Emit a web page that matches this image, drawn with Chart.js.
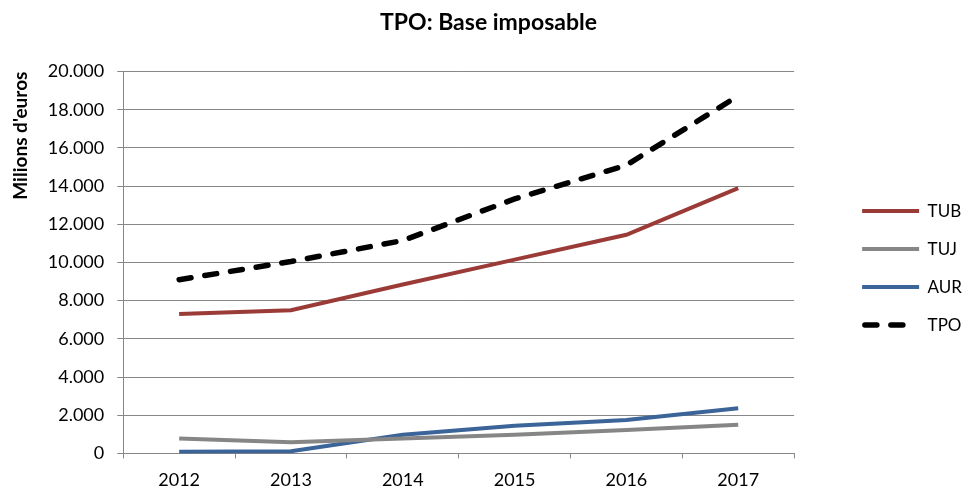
<!DOCTYPE html>
<html>
<head>
<meta charset="utf-8">
<script src="https://cdn.jsdelivr.net/npm/chart.js@4"></script>
<style>
  html, body { margin: 0; padding: 0; background: #fff; }
  #wrap { width: 963px; height: 488px; }
</style>
</head>
<body>
<div id="wrap"><canvas id="chart"></canvas></div>
<script>
const years = ['2012', '2013', '2014', '2015', '2016', '2017'];
const tub = [7300, 7500, 8850, 10150, 11450, 13900];
const tuj = [780, 590, 780, 980, 1220, 1500];
const aur = [80, 110, 980, 1450, 1750, 2360];
const tpo = [9100, 10050, 11150, 13330, 15100, 18730];
const yTicks = [0, 2000, 4000, 6000, 8000, 10000, 12000, 14000, 16000, 18000, 20000];

const gridColor = '#878787';
const font = 'Lato';
const legendLineW = 57;

// thousands with a dot, as in the original
function fmt(v) {
  return String(v).replace(/\B(?=(\d{3})+(?!\d))/g, '.');
}

// legend symbols drawn as real line samples (dash included)
const legendLines = {
  id: 'legendLines',
  afterDraw(chart) {
    const lg = chart.legend;
    const c = chart.ctx;
    lg.legendItems.forEach((item, i) => {
      const box = lg.legendHitBoxes[i];
      const ds = chart.data.datasets[item.datasetIndex];
      const y = box.top + box.height / 2;
      const round = ds.borderCapStyle === 'round';
      const inset = round ? ds.borderWidth / 2 : 0;
      c.save();
      c.strokeStyle = ds.borderColor;
      c.lineWidth = ds.borderWidth;
      c.lineCap = ds.borderCapStyle || 'butt';
      c.setLineDash(ds.borderDash || []);
      c.beginPath();
      c.moveTo(box.left + inset, y);
      c.lineTo(box.left + legendLineW - inset, y);
      c.stroke();
      c.restore();
    });
  }
};

const ctx = document.getElementById('chart');
new Chart(ctx, {
  type: 'line',
  data: {
    labels: years,
    datasets: [
      { label: 'TUB', data: tub, borderColor: '#9a3b38', borderWidth: 4 },
      { label: 'TUJ', data: tuj, borderColor: '#868686', borderWidth: 4 },
      { label: 'AUR', data: aur, borderColor: '#3b6498', borderWidth: 4 },
      { label: 'TPO', data: tpo, borderColor: '#000000', borderWidth: 5.5,
        borderDash: [12, 14], borderCapStyle: 'round' }
    ]
  },
  options: {
    responsive: true,
    maintainAspectRatio: false,
    animation: false,
    elements: {
      point: { radius: 0, hoverRadius: 0 },
      line: { tension: 0, fill: false }
    },
    layout: { padding: { left: 5, right: -9, top: 0, bottom: -14 } },
    plugins: {
      title: {
        display: true,
        text: 'TPO: Base imposable',
        color: '#000',
        font: { family: font, size: 23, weight: 'bold' },
        padding: { top: 9, bottom: 35 }
      },
      legend: {
        position: 'right',
        fullSize: false,
        title: { display: true, text: '', font: { size: 1 }, padding: { top: 10, bottom: 0 } },
        labels: {
          boxWidth: legendLineW,
          boxHeight: 17,
          padding: 21,
          color: '#000',
          font: { family: font, size: 17 },
          generateLabels: (chart) => Chart.defaults.plugins.legend.labels.generateLabels(chart)
            .map(it => Object.assign(it, { fillStyle: 'rgba(0,0,0,0)', strokeStyle: 'rgba(0,0,0,0)', lineWidth: 0 }))
        }
      },
      tooltip: { enabled: false }
    },
    scales: {
      x: {
        offset: true,
        grid: { display: true, drawOnChartArea: false, offset: true, tickLength: 5, color: gridColor },
        border: { color: gridColor },
        ticks: { color: '#000', padding: 11, font: { family: font, size: 18 } }
      },
      y: {
        min: 0,
        max: 20000,
        afterBuildTicks: (s) => { s.ticks = yTicks.map(v => ({ value: v })); },
        grid: { color: gridColor, tickLength: 6 },
        border: { color: gridColor },
        ticks: { color: '#000', padding: 13, font: { family: font, size: 18 }, callback: (v) => fmt(v) },
        title: {
          display: true,
          text: "Milions d'euros",
          align: 'end',
          color: '#000',
          font: { family: font, size: 19, weight: 'bold' },
          padding: { top: 4, bottom: 3 }
        }
      },
      // empty axis, only keeps the gap between plot and legend
      y2: {
        position: 'right',
        display: true,
        grid: { display: false },
        border: { display: false },
        ticks: { display: false },
        afterFit: (s) => { s.width = 47; }
      }
    }
  },
  plugins: [legendLines]
});
</script>
</body>
</html>
